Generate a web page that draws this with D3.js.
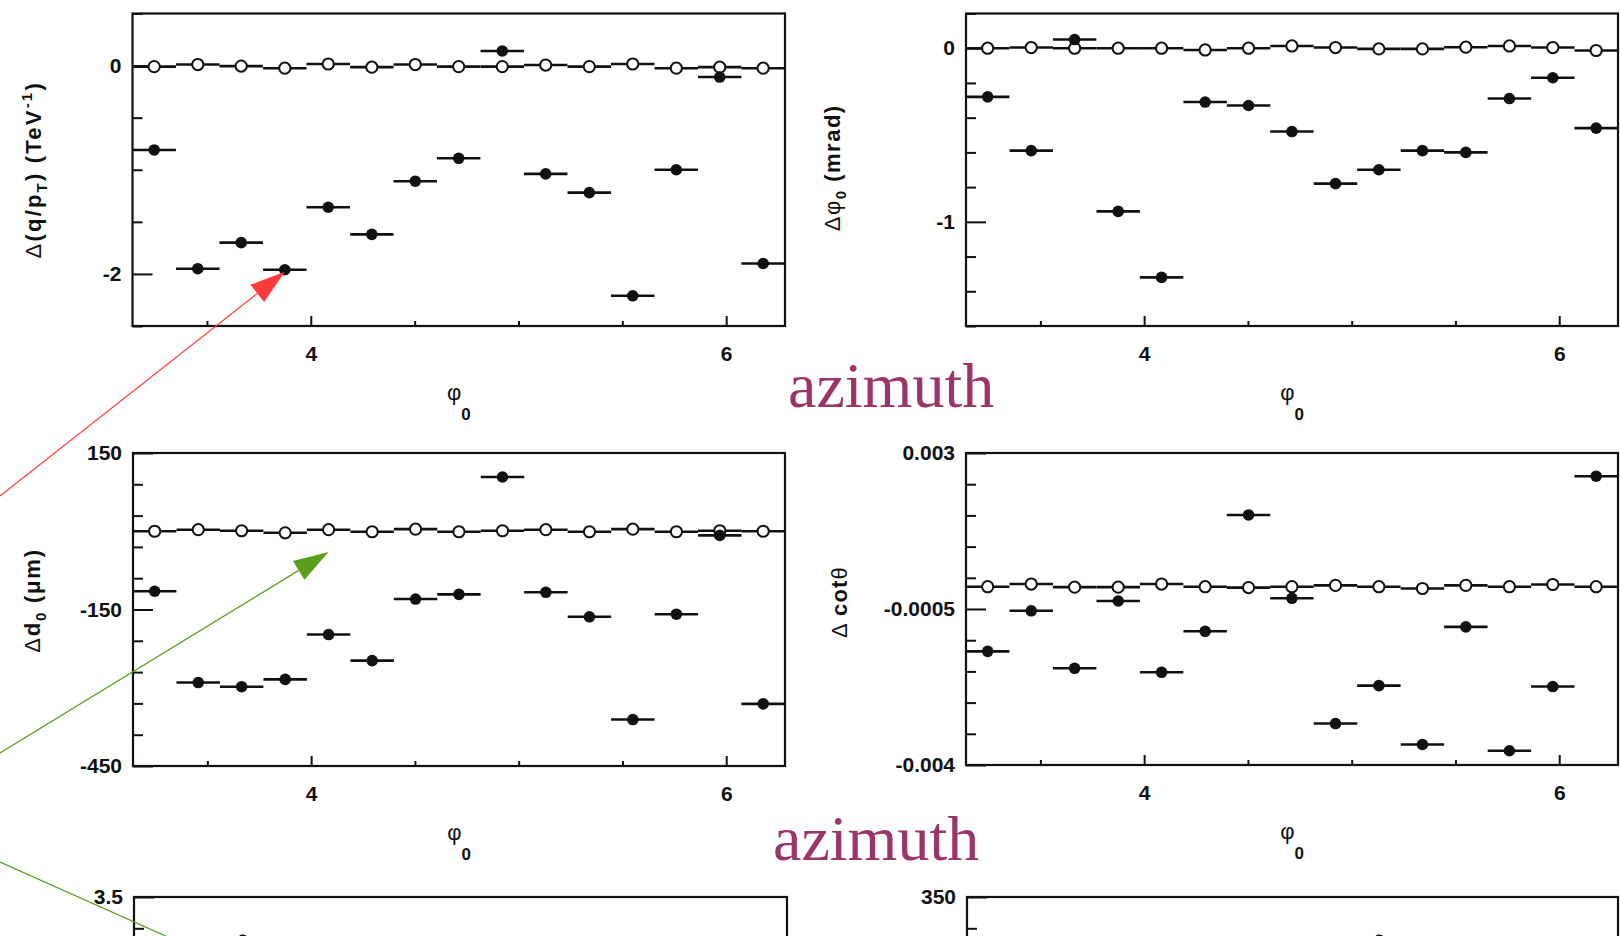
<!DOCTYPE html>
<html>
<head>
<meta charset="utf-8">
<script src="https://cdn.jsdelivr.net/npm/d3@7"></script>
<style>
  body { margin: 0; background: #fff; }
  svg { display: block; }
</style>
</head>
<body>
<script>
"use strict";

/*
  Values: 15 bins in phi0 between pi and 2 pi.
  "before" = filled dots, "after" = open circles.
*/
var phiBins = [3.246, 3.456, 3.665, 3.875, 4.084, 4.294, 4.503, 4.712, 4.922, 5.131, 5.341, 5.550, 5.760, 5.969, 6.178];
var binHalfWidth = 0.1047;
var phiRange = [3.1416, 6.2832];

var xMajor = [4, 6];
var xMajorLabels = ["4", "6"];
var xMinor = [3.5, 4.5, 5, 5.5];

// delta(q/pT), TeV^-1
var qptBefore = [-0.81, -1.95, -1.70, -1.96, -1.36, -1.62, -1.11, -0.89, 0.14, -1.04, -1.22, -2.21, -1.00, -0.11, -1.90];
var qptAfter = [-0.01, 0.01, -0.005, -0.025, 0.015, -0.015, 0.01, -0.01, -0.01, 0.005, -0.01, 0.015, -0.025, -0.015, -0.025];
var qptMajor = [0, -2];
var qptLabels = ["0", "-2"];
var qptMinor = [0.5, -0.5, -1, -1.5, -2.5];

// delta phi0, mrad
var phi0Before = [-0.28, -0.59, 0.05, -0.94, -1.32, -0.31, -0.33, -0.48, -0.78, -0.70, -0.59, -0.60, -0.29, -0.17, -0.46];
var phi0After = [0, 0.004, 0, 0, 0, -0.01, 0, 0.013, 0.004, -0.004, -0.004, 0.006, 0.013, 0.004, -0.013];
var phi0Major = [0, -1];
var phi0Labels = ["0", "-1"];
var phi0Minor = [0.2, -0.2, -0.4, -0.6, -0.8, -1.2, -1.4, -1.6];

// delta d0, micron
var d0Before = [-115, -290, -298, -284, -198, -248, -130, -121, 104, -117, -164, -361, -159, -8, -331];
var d0After = [0, 3, 1, -3, 3, -1, 4, -1, 1, 3, -1, 4, -1, 1, 0];
var d0Major = [150, -150, -450];
var d0Labels = ["150", "-150", "-450"];
var d0Minor = [90, 30, -30, -90, -210, -270, -330, -390];

// delta cot(theta)
var cotBefore = [-0.00145, -0.00054, -0.00183, -0.00032, -0.00192, -0.00100, 0.00161, -0.00026, -0.00307, -0.00222, -0.00354, -0.00090, -0.00368, -0.00224, 0.00248];
var cotAfter = [0, 0.00006, -0.00001, -0.00001, 0.00006, 0, -0.00002, 0, 0.00003, 0, -0.00004, 0.00003, 0, 0.00005, 0];
var cotMajor = [0.003, -0.0005, -0.004];
var cotLabels = ["0.003", "-0.0005", "-0.004"];
var cotMinor = [0.0023, 0.0016, 0.0009, 0.0002, -0.0012, -0.0019, -0.0026, -0.0033];

// lower row, only the top strip is in the picture
var lowLeftBefore = [null, null, 2.53, null, null, null, null, null, null, null, null, null, null, null, null];
var lowLeftMajor = [3.5];
var lowLeftLabels = ["3.5"];
var lowLeftMinor = [2.8, 2.1, 1.4, 0.7];
var lowRightBefore = [null, null, null, null, null, null, null, null, null, 253, null, null, null, null, null];
var lowRightMajor = [350];
var lowRightLabels = ["350"];
var lowRightMinor = [280, 210, 140, 70];

/*
  Page layout
*/
var W = 1620, H = 936;
var ink = "#111";

var svg = d3.select("body")
  .append("svg")
    .attr("width", W)
    .attr("height", H)
    .style("font-family", "'Liberation Sans', Arial, sans-serif");

svg.append("rect").attr("width", W).attr("height", H).attr("fill", "#fff");

var panels = [
  { x0: 132.5, x1: 785, y0: 13.5, y1: 326, dom: [-2.5, 0.5], before: qptBefore, after: qptAfter,
    major: qptMajor, labels: qptLabels, minor: qptMinor, titleX: 41, titleDy: 0, spacing: 2.2, xAxis: true,
    title: [["\u0394", "g"], ["(q/p", "b"], ["T", "sub"], [") (TeV", "b"], ["-1", "sup"], [")", "b"]] },
  { x0: 966, x1: 1618, y0: 13.5, y1: 326, dom: [-1.6, 0.2], before: phi0Before, after: phi0After,
    major: phi0Major, labels: phi0Labels, minor: phi0Minor, titleX: 840, titleDy: -2, spacing: 1.5, xAxis: true,
    title: [["\u0394\u03c6", "g"], ["0", "sub"], [" (mrad)", "b"]] },
  { x0: 133, x1: 785, y0: 453, y1: 766, dom: [-450, 150], before: d0Before, after: d0After,
    major: d0Major, labels: d0Labels, minor: d0Minor, titleX: 40, titleDy: -9, spacing: 1.8, xAxis: true,
    title: [["\u0394", "g"], ["d", "b"], ["0", "sub"], [" (\u03bcm)", "b"]] },
  { x0: 966, x1: 1618, y0: 453, y1: 765, dom: [-0.004, 0.003], before: cotBefore, after: cotAfter,
    major: cotMajor, labels: cotLabels, minor: cotMinor, titleX: 847, titleDy: -7, spacing: 1.2, xAxis: true,
    title: [["\u0394 ", "g"], ["cot", "b"], ["\u03b8", "g"]] },
  { x0: 134, x1: 787, y0: 897, y1: 1210, dom: [-3.5, 3.5], before: lowLeftBefore, after: null,
    major: lowLeftMajor, labels: lowLeftLabels, minor: lowLeftMinor, xAxis: false, title: null },
  { x0: 967, x1: 1618, y0: 897, y1: 1210, dom: [-350, 350], before: lowRightBefore, after: null,
    major: lowRightMajor, labels: lowRightLabels, minor: lowRightMinor, xAxis: false, title: null }
];

function styleAxis(g) {
  g.select(".domain").remove();
  g.selectAll(".tick line").attr("stroke", ink).attr("stroke-width", 2);
  g.selectAll(".tick text")
    .attr("fill", ink)
    .attr("font-family", "'Liberation Sans', Arial, sans-serif")
    .attr("font-weight", "bold")
    .attr("font-size", 21);
}

function rotatedTitle(parent, parts, cx, cy, spacing) {
  var t = parent.append("text")
    .attr("transform", "translate(" + cx + "," + cy + ") rotate(-90)")
    .attr("text-anchor", "middle")
    .attr("dy", "0.36em")
    .attr("fill", ink)
    .attr("font-size", 22)
    .style("letter-spacing", spacing + "px");
  var shift = 0;
  parts.forEach(function (p) {
    var target = p[1] === "sub" ? 6 : (p[1] === "sup" ? -9 : 0);
    t.append("tspan")
      .attr("dy", target - shift)
      .attr("font-size", (p[1] === "sub" || p[1] === "sup") ? 15 : 22)
      .attr("font-weight", p[1] === "g" ? "normal" : "bold")
      .text(p[0]);
    shift = target;
  });
}

function drawPanel(p) {
  var x = d3.scaleLinear().domain(phiRange).range([p.x0, p.x1]);
  var y = d3.scaleLinear().domain(p.dom).range([p.y1, p.y0]);
  var g = svg.append("g");

  // y ticks, inside the frame
  g.append("g")
    .attr("transform", "translate(" + p.x0 + ",0)")
    .call(d3.axisLeft(y).tickValues(p.minor).tickSizeInner(-10).tickSizeOuter(0).tickFormat(""))
    .call(styleAxis);
  g.append("g")
    .attr("transform", "translate(" + p.x0 + ",0)")
    .call(d3.axisLeft(y).tickValues(p.major).tickSizeInner(-20).tickSizeOuter(0).tickPadding(11)
      .tickFormat(function (d, i) { return p.labels[i]; }))
    .call(styleAxis);

  // x ticks (the lower row is cut off before its axis)
  if (p.xAxis) {
    g.append("g")
      .attr("transform", "translate(0," + p.y1 + ")")
      .call(d3.axisBottom(x).tickValues(xMinor).tickSizeInner(-5).tickSizeOuter(0).tickFormat(""))
      .call(styleAxis);
    g.append("g")
      .attr("transform", "translate(0," + p.y1 + ")")
      .call(d3.axisBottom(x).tickValues(xMajor).tickSizeInner(-10).tickSizeOuter(0).tickPadding(20)
        .tickFormat(function (d, i) { return xMajorLabels[i]; }))
      .call(styleAxis);
  }

  g.append("rect")
    .attr("x", p.x0).attr("y", p.y0)
    .attr("width", p.x1 - p.x0).attr("height", p.y1 - p.y0)
    .attr("fill", "none").attr("stroke", ink).attr("stroke-width", 2.2);

  function series(values, filled) {
    if (!values) return;
    var pts = [];
    values.forEach(function (v, i) {
      if (v !== null) pts.push({ phi: phiBins[i], v: v });
    });
    g.selectAll(null).data(pts).enter().append("line")
      .attr("x1", function (d) { return x(d.phi - binHalfWidth); })
      .attr("x2", function (d) { return x(d.phi + binHalfWidth); })
      .attr("y1", function (d) { return y(d.v); })
      .attr("y2", function (d) { return y(d.v); })
      .attr("stroke", ink).attr("stroke-width", 2.6);
    g.selectAll(null).data(pts).enter().append("circle")
      .attr("cx", function (d) { return x(d.phi); })
      .attr("cy", function (d) { return y(d.v); })
      .attr("r", filled ? 5.8 : 5.6)
      .attr("fill", filled ? ink : "#fff")
      .attr("stroke", ink)
      .attr("stroke-width", filled ? 0 : 2);
  }
  series(p.after, false);
  series(p.before, true);

  if (p.title) {
    rotatedTitle(g, p.title, p.titleX, (p.y0 + p.y1) / 2 + p.titleDy, p.spacing);
    var xt = g.append("text")
      .attr("x", (p.x0 + p.x1) / 2)
      .attr("y", p.y1 + 74)
      .attr("text-anchor", "middle")
      .attr("fill", ink)
      .attr("font-size", 22)
      .text("\u03c6");
    xt.append("tspan").attr("dy", 20).attr("font-size", 17).attr("font-weight", "bold").text("0");
  }
  return { x: x, y: y };
}

var scales = panels.map(drawPanel);

/*
  Slide annotations
*/
var azimuthLabels = [{ x: 788, y: 407 }, { x: 773, y: 860 }];
svg.selectAll(null).data(azimuthLabels).enter().append("text")
  .attr("x", function (d) { return d.x; })
  .attr("y", function (d) { return d.y; })
  .attr("font-family", "'Liberation Serif', 'Times New Roman', serif")
  .attr("font-size", 64)
  .attr("fill", "#9b3467")
  .text("azimuth");

function arrow(color, tail, tip, head) {
  var dx = tip[0] - tail[0], dy = tip[1] - tail[1];
  var len = Math.sqrt(dx * dx + dy * dy);
  var ux = dx / len, uy = dy / len;
  var hl = head ? 35 : 0, hw = 11;
  var bx = tip[0] - ux * hl, by = tip[1] - uy * hl;
  svg.append("line")
    .attr("x1", tail[0]).attr("y1", tail[1])
    .attr("x2", bx).attr("y2", by)
    .attr("stroke", color).attr("stroke-width", 1.2);
  if (head) {
    svg.append("polygon")
      .attr("points", [tip, [bx - uy * hw, by + ux * hw], [bx + uy * hw, by - ux * hw]].map(function (q) { return q.join(","); }).join(" "))
      .attr("fill", color);
  }
}

var s0 = scales[0], s2 = scales[2];
arrow("#ff3a3a", [0, 496], [s0.x(phiBins[3]), s0.y(qptBefore[3]) + 2], true);
arrow("#5a9c1c", [0, 753], [s2.x(phiBins[4]), s2.y(-40)], true);
arrow("#5a9c1c", [0, 862], [300, 996], false);
</script>
</body>
</html>
